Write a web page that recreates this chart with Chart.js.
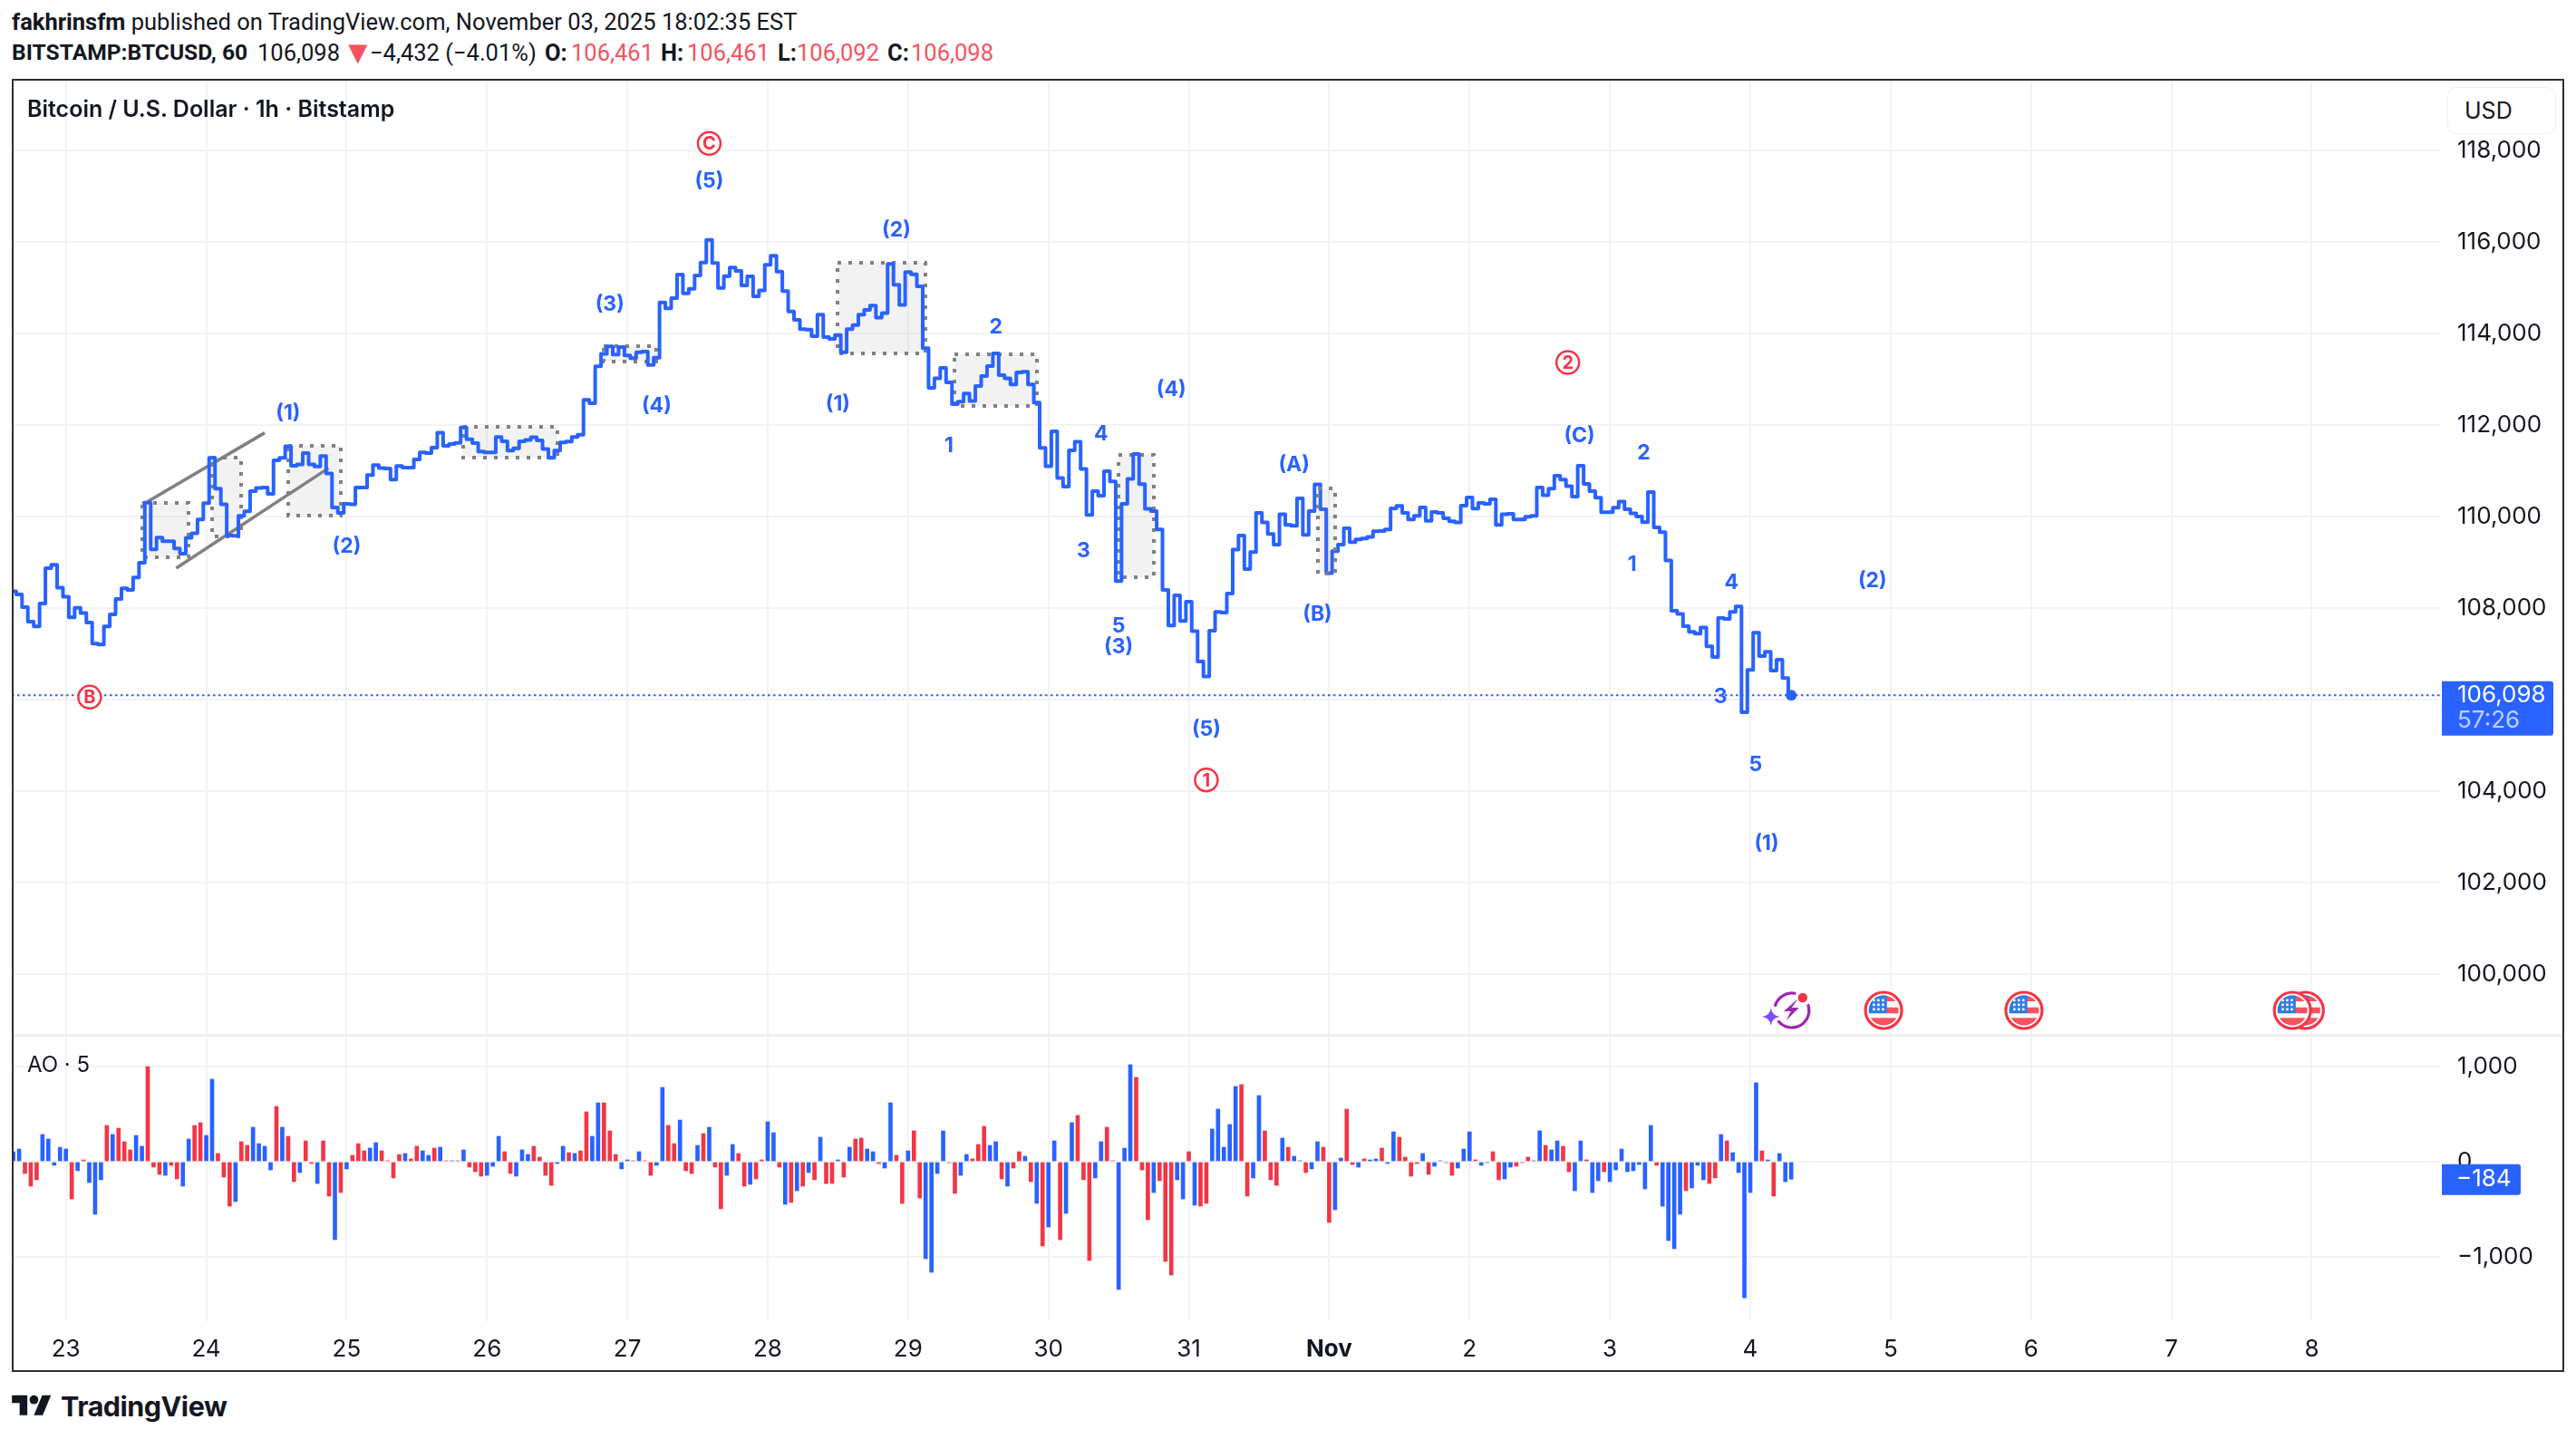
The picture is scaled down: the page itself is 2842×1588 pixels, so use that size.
<!DOCTYPE html>
<html>
<head>
<meta charset="utf-8">
<title>BTCUSD 1h</title>
<script src="https://cdn.jsdelivr.net/npm/chart.js@4"></script>
<style>
  html,body{margin:0;padding:0;background:#fff;width:2842px;height:1588px;overflow:hidden}
  body{font-family:Inter,Roboto,sans-serif;color:#131722;position:relative}
  canvas{position:absolute;left:13px}
  #priceChart{top:87px}
  #aoChart{top:1142px}
  #frame{position:absolute;left:13px;top:87px;width:2812px;height:1423px;border:2.5px solid #2e2e2e;pointer-events:none}
  #sep{position:absolute;left:15px;top:1141px;width:2812px;height:3px;background:#eeeeee}
  .line{position:absolute;left:13px;white-space:nowrap;font-family:Roboto,sans-serif;font-size:25.5px;line-height:30px}
  #l1{top:9px}
  #l2{top:43px;height:30px}
  #l2 span{position:absolute;top:0}
  .line b{font-weight:700}
  #l2 .red{color:#f7525f}
  #title{position:absolute;left:30px;top:105px;font-size:25px;font-weight:600;line-height:30px;white-space:nowrap}
  #aoTitle{position:absolute;left:30px;top:1160px;font-size:24px;line-height:30px;white-space:nowrap}
  #usd{position:absolute;left:2700px;top:96px;width:100px;height:50px;padding-left:18px;border:1px solid #f0f0f0;border-radius:10px;background:#fff;font-size:25px;line-height:50px}
  #logo{position:absolute;left:13px;top:1534px;display:flex;align-items:center;color:#131722}
  #logo span{font-size:30.5px;font-weight:700;letter-spacing:-.5px;margin-left:10px;line-height:36px}
</style>
</head>
<body>
<div class="line" id="l1"><b>fakhrinsfm</b> published on TradingView.com, November 03, 2025 18:02:35 EST</div>
<div class="line" id="l2">
  <span style="left:0;font-size:24.6px"><b>BITSTAMP:BTCUSD, 60</b></span>
  <span style="left:271px">106,098</span>
  <span class="red" style="left:364px;font-size:36px">▼</span>
  <span style="left:395px">−4,432 (−4.01%)</span>
  <span style="left:588px"><b>O:</b></span><span class="red" style="left:617px">106,461</span>
  <span style="left:716px"><b>H:</b></span><span class="red" style="left:745px">106,461</span>
  <span style="left:845px"><b>L:</b></span><span class="red" style="left:866px">106,092</span>
  <span style="left:966px"><b>C:</b></span><span class="red" style="left:992px">106,098</span>
</div>
<canvas id="priceChart" width="2816" height="1055"></canvas>
<canvas id="aoChart" width="2816" height="371"></canvas>
<div id="sep"></div>
<div id="frame"></div>
<div id="title">Bitcoin / U.S. Dollar · 1h · Bitstamp</div>
<div id="aoTitle">AO · 5</div>
<div id="usd">USD</div>
<div id="logo">
  <svg width="44" height="34" viewBox="0 0 36 28"><path fill="#131722" d="M14 22H7V11H0V4h14v18zM28 22h-8l7.5-18h8L28 22z"/><circle fill="#131722" cx="20" cy="8" r="4"/></svg>
  <span>TradingView</span>
</div>
<script>
// === data
const firstHour = -10; // hours counted from Oct 23 00:00
const priceValues = [
  108400,108370,108304,108027,107710,107604,108106,108878,108951,108449,
  108251,107802,108013,107895,107690,107228,107208,107604,107868,108205,
  108436,108403,108673,108997,110310,109287,109545,109465,109465,109307,
  109195,109538,109637,109941,110297,111287,110614,110271,109591,109584,
  110020,110119,110561,110627,110640,110502,111234,111287,111538,111115,
  111142,111393,111142,111102,111327,110944,110205,110086,110284,110271,
  110640,110640,110911,111129,111063,111056,110812,111109,111076,111076,
  111254,111406,111393,111511,111835,111551,111591,111617,111950,111696,
  111611,111426,111406,111406,111743,111650,111446,111498,111650,111677,
  111736,111670,111479,111287,111446,111624,111644,111743,111795,112554,
  112482,113287,113558,113723,113544,113709,113525,113465,113597,113610,
  113320,113478,114686,114554,114779,115293,114884,114983,115274,115557,
  116052,115544,115003,115260,115445,115373,115056,115254,114818,114944,
  115505,115703,115359,114930,114488,114303,114099,114092,113947,114416,
  113927,113888,113973,113597,114099,114191,114416,114521,114614,114350,
  114449,115524,115069,114627,115346,115300,115036,113683,112819,113023,
  113254,112937,112462,112515,112693,112528,112858,113076,113294,113571,
  113096,113023,112891,113155,113168,112891,112495,111505,111103,111868,
  110845,110660,111452,111637,111043,110040,110561,110462,110997,110773,
  108595,110284,110825,111373,110713,110172,110126,109723,108403,107624,
  108284,107723,108146,107499,106839,106509,107512,107921,107908,108324,
  109281,109591,108859,109228,110086,109875,109624,109393,110053,109822,
  109802,110403,109604,110126,110707,110165,108766,109248,109393,109750,
  109446,109505,109525,109558,109683,109690,109723,110185,110238,110086,
  109941,110020,110205,109914,110106,110086,109967,109901,109875,110244,
  110422,110178,110304,110284,110383,109822,110053,110066,109941,109941,
  110000,110020,110640,110469,110614,110898,110812,110667,110442,111115,
  110719,110561,110416,110099,110099,110198,110330,110165,110073,110007,
  109881,110541,109769,109663,109043,107947,107875,107611,107485,107446,
  107578,107169,106938,107789,107769,107921,108040,105730,106654,107466,
  106957,107050,106641,106878,106476,106098
];
const lastPrice = 106098;

const aoFirstHour = -9;
const aoValues = [
  105,133,-124,-257,-190,286,238,-38,152,133,
  -391,-95,19,-219,-552,-190,381,286,352,210,
  124,276,162,1000,-57,-133,-143,-38,-181,-257,
  238,381,410,276,867,86,-162,-467,-419,210,
  171,362,190,162,-86,581,362,267,-210,-114,
  219,-19,-229,219,-362,-819,-324,-76,67,190,
  114,143,200,114,10,-171,76,86,29,162,
  114,67,143,152,10,10,10,124,-57,-105,
  -152,-143,-48,267,105,-124,-152,124,76,162,
  48,-143,-248,-19,162,95,86,114,524,267,
  619,619,324,76,-76,19,10,105,10,-143,
  -38,781,381,190,438,-95,-124,171,295,362,
  -57,-495,-143,181,86,-257,-238,-181,19,419,
  305,-57,-448,-429,-305,-257,-114,-190,257,-229,
  -229,19,-162,152,238,248,133,105,-19,-67,
  619,67,-438,114,324,-381,-1019,-1162,-124,324,
  -10,-333,-143,76,29,181,371,171,210,-181,
  -257,-67,105,57,-210,-438,-886,-686,219,-819,
  -543,410,486,-190,-1038,-171,210,362,10,-1343,
  143,1019,886,-86,-610,-324,-200,-1048,-1191,-190,
  -391,105,-457,-467,-438,343,552,152,391,791,
  810,-362,-171,695,324,-190,-248,248,152,57,
  10,-114,-76,210,152,-638,-505,38,552,-29,
  -57,29,19,29,143,-19,314,257,48,-152,
  -19,86,-133,-48,10,-10,-143,-67,133,314,
  19,-38,-10,105,-190,-181,-57,-48,-10,48,
  10,324,171,124,219,162,-105,-305,219,19,
  -324,-200,-105,-210,-86,133,-105,-95,-29,-286,
  381,-38,-467,-829,-914,-552,-305,-276,-38,-190,
  -229,-171,286,219,95,-114,-1429,-324,829,114,
  19,-362,86,-210,-184
];
// B = blue bar, R = red bar, same order as aoValues
const aoColorKeys = (
  'BBRRRBBBBB'+'RBRBBBRBRR'+'RBBRRRBRRB'+'BRRBBRRRBR'+'RBBBBRBRRB'+
  'RRBRRBRBRR'+'RBBRRRRBRR'+'BBRBRBRBRR'+'RBBBRRBBBR'+'RRRBBRBRRB'+
  'BRRRBBRBRR'+'BBRRBRRBRB'+'RRBBRRBRRB'+'BRBRBRBRBR'+'RBRBRRBBRB'+
  'BRRBRRBBBB'+'RRBBRRRBBR'+'BRRBRBRBBR'+'BBRRRBBRRB'+'BBRRRBRRRB'+
  'BRBRRBBBBB'+'RRBBRRRBRB'+'BRBBRRBBRR'+'BRBBRBBRRR'+'RBRBBRRBBB'+
  'RBBRRBBRRR'+'BBRBBRRBBR'+'BBRBBBBBBB'+'BRBBBBRBBB'+'RRBRBBBBBR'+'BRBBB'
).split('');

const dayHours = [0,24,48,72,96,120,144,168,192,216,240,264,288,312,336,360,384];
const dayLabels = ['23','24','25','26','27','28','29','30','31','Nov','2','3','4','5','6','7','8'];
const priceTicks = [100000,102000,104000,106000,108000,110000,112000,114000,116000,118000];
const aoTicks = [-1000,0,1000];

// wave labels: text, hour, price
const blueWaves = [
  ['(1)',38,112264],['(2)',48,109360],['(3)',93,114647],['(4)',101,112429],['(5)',110,117333],
  ['(1)',132,112455],['(2)',142,116270],['1',151,111551],['2',159,114145],['3',174,109261],
  ['4',177,111802],['5',180,107611],['(3)',180,107149],['(4)',189,112772],['(5)',195,105341],
  ['(A)',210,111129],['(B)',214,107875],['(C)',258.8,111776],['1',267.8,108951],['2',269.8,111382],
  ['3',282.9,106060],['4',284.8,108555],['5',288.9,104572],['(1)',290.8,102858],['(2)',308.9,108604]
];
const redWaves = [['B',4.06,106058],['C',110,118160],['1',195,104250],['2',256.8,113372]];

// dotted boxes: hour from, price top, hour to, price bottom
const zoneBoxes = [
  [13,110304,21,109122],[25,111294,30,109578],[38,111551,47,110033],[68,111960,84,111300],
  [92,113736,101,113393],[132,115557,147,113577],[152,113551,166,112429],[180,111360,186,108680]
];
const zoneBoxesOver = [[214,110614,217,108766]];
const channelLines = [[13.8,110317,34,111835],[18.86,108878,44.9,111063]];
const usEventHours = [310.8,334.8,380.7,382.9];
const boltEventHour = 295.1;
const iconPrice = 99214;

// === look
const BLUE = '#2962ff', RED = '#f23645', INK = '#131722', GRID = '#f3f3f3';
const FONT = 'Inter';
const xMin = -9.25, xMax = 405.94;
const axisW = 137;

const fmt = v => Math.abs(v).toLocaleString('en-US');
const signed = v => (v < 0 ? '−' : '') + fmt(v);
// the plot must fill the pane exactly, no room for half a label
const noMargins = s => { s.paddingTop = 0; s.paddingBottom = 0; s.paddingLeft = 0; s.paddingRight = 0; };

function xScale(showLabels){
  return {
    type:'linear', min:xMin, max:xMax, offset:false,
    afterBuildTicks: s => { s.ticks = dayHours.map(v => ({value:v})); },
    afterFit: s => { noMargins(s); s.height = showLabels ? 55 : 0; },
    border:{display:false},
    grid:{color:GRID, lineWidth:2, drawTicks:false, offset:false},
    ticks:{
      display:showLabels, autoSkip:false, maxRotation:0, minRotation:0, padding:16, color:INK,
      callback: v => dayLabels[dayHours.indexOf(v)],
      font: c => ({family:FONT, size:26, weight: c.tick && c.tick.label === 'Nov' ? '700' : '400'})
    }
  };
}
function yScale(min, max, tickList, label){
  return {
    position:'right', min, max,
    afterBuildTicks: s => { s.ticks = tickList.map(v => ({value:v})); },
    afterFit: s => { noMargins(s); s.width = axisW; },
    border:{display:false},
    grid:{color:GRID, lineWidth:2, drawTicks:false},
    ticks:{padding:19, color:INK, font:{family:FONT, size:26}, callback:label}
  };
}

// === drawings that sit on the price pane
function drawZone(c, box){
  const x = c.scales.x, y = c.scales.y, ctx = c.ctx;
  const l = Math.round(x.getPixelForValue(box[0])), r = Math.round(x.getPixelForValue(box[2]));
  const t = Math.round(y.getPixelForValue(box[1])), b = Math.round(y.getPixelForValue(box[3]));
  ctx.save();
  ctx.fillStyle = 'rgba(128,128,128,0.1)';
  ctx.fillRect(l, t, r-l, b-t);
  ctx.strokeStyle = '#808080'; ctx.lineWidth = 4; ctx.setLineDash([4,8]);
  ctx.strokeRect(l, t, r-l, b-t);
  ctx.restore();
}
function drawFlag(ctx, cx, cy){
  ctx.save();
  ctx.beginPath(); ctx.arc(cx, cy, 20, 0, Math.PI*2);
  ctx.fillStyle = '#fff'; ctx.fill();
  ctx.strokeStyle = RED; ctx.lineWidth = 3.2; ctx.stroke();
  ctx.beginPath(); ctx.arc(cx, cy, 16.5, 0, Math.PI*2); ctx.clip();
  ctx.fillStyle = '#f7525f';
  ctx.fillRect(cx-17, cy-17, 34, 7);
  ctx.fillRect(cx+3, cy-3.3, 14, 6.6);
  ctx.fillRect(cx-17, cy+8.3, 34, 9);
  ctx.fillStyle = '#2b7de9';
  ctx.fillRect(cx-17, cy-17, 20.7, 20.3);
  ctx.fillStyle = '#fff';
  for(let r = 0; r < 3; r++) for(let k = 0; k < 3; k++) ctx.fillRect(cx-12+k*5, cy-12.5+r*5, 2.6, 2.6);
  ctx.restore();
}
function drawBoltIcon(ctx, cx, cy){
  const deg = d => d*Math.PI/180;
  ctx.save();
  ctx.strokeStyle = '#9c27b0'; ctx.lineWidth = 3.2; ctx.lineCap = 'round';
  ctx.beginPath(); ctx.arc(cx, cy, 19, deg(197), deg(280)); ctx.stroke();
  ctx.beginPath(); ctx.arc(cx, cy, 19, deg(-17), deg(139)); ctx.stroke();
  ctx.fillStyle = '#9c27b0';
  ctx.beginPath();
  ctx.moveTo(cx+7,cy-13); ctx.lineTo(cx-9,cy+1); ctx.lineTo(cx-1,cy+1); ctx.lineTo(cx-6,cy+11);
  ctx.lineTo(cx+8,cy-3); ctx.lineTo(cx,cy-3); ctx.closePath(); ctx.fill();
  ctx.fillStyle = RED;
  ctx.beginPath(); ctx.arc(cx+12, cy-14, 5.2, 0, Math.PI*2); ctx.fill();
  const sx = cx-23, sy = cy+7;
  ctx.fillStyle = '#7c4dff';
  ctx.beginPath();
  ctx.moveTo(sx,sy-10); ctx.quadraticCurveTo(sx+1,sy-1,sx+10,sy);
  ctx.quadraticCurveTo(sx+1,sy+1,sx,sy+10); ctx.quadraticCurveTo(sx-1,sy+1,sx-10,sy);
  ctx.quadraticCurveTo(sx-1,sy-1,sx,sy-10); ctx.fill();
  ctx.restore();
}
function priceTag(c, top, h, w){
  const ctx = c.ctx, l = c.chartArea.right + 2;
  ctx.fillStyle = BLUE;
  ctx.beginPath(); ctx.roundRect(l, top, w, h, [0,3,3,0]); ctx.fill();
}

const priceDrawings = {
  id:'priceDrawings',
  beforeDatasetsDraw(c){
    const x = c.scales.x, y = c.scales.y, ctx = c.ctx;
    zoneBoxes.forEach(b => drawZone(c, b));
    ctx.save();
    ctx.strokeStyle = '#808080'; ctx.lineWidth = 3.5;
    channelLines.forEach(l => {
      ctx.beginPath();
      ctx.moveTo(x.getPixelForValue(l[0]), y.getPixelForValue(l[1]));
      ctx.lineTo(x.getPixelForValue(l[2]), y.getPixelForValue(l[3]));
      ctx.stroke();
    });
    ctx.restore();
  },
  afterDatasetsDraw(c){
    const x = c.scales.x, y = c.scales.y, ctx = c.ctx;
    zoneBoxesOver.forEach(b => drawZone(c, b));
    ctx.save();
    ctx.textAlign = 'center'; ctx.textBaseline = 'middle';
    ctx.font = '700 23px ' + FONT; ctx.fillStyle = BLUE;
    blueWaves.forEach(w => ctx.fillText(w[0], x.getPixelForValue(w[1]), y.getPixelForValue(w[2])));
    redWaves.forEach(w => {
      const px = x.getPixelForValue(w[1]), py = y.getPixelForValue(w[2]);
      ctx.beginPath(); ctx.arc(px, py, 12.5, 0, Math.PI*2);
      ctx.fillStyle = '#fff'; ctx.fill();
      ctx.strokeStyle = RED; ctx.lineWidth = 2.5; ctx.stroke();
      ctx.fillStyle = RED; ctx.font = '700 20px ' + FONT;
      ctx.fillText(w[0], px, py + 1);
    });
    const iy = y.getPixelForValue(iconPrice);
    drawBoltIcon(ctx, x.getPixelForValue(boltEventHour), iy);
    usEventHours.slice().reverse().forEach(h => drawFlag(ctx, x.getPixelForValue(h), iy));
    ctx.restore();
  },
  afterDraw(c){
    const ctx = c.ctx, py = c.scales.y.getPixelForValue(lastPrice), tx = c.chartArea.right + 19;
    ctx.save();
    priceTag(c, py-15.5, 60, 123);
    ctx.textAlign = 'left'; ctx.textBaseline = 'middle';
    ctx.font = '26px ' + FONT;
    ctx.fillStyle = '#fff'; ctx.fillText(fmt(lastPrice), tx, py);
    ctx.fillStyle = 'rgba(255,255,255,0.7)'; ctx.fillText('57:26', tx, py + 28);
    ctx.restore();
  }
};
const aoDrawings = {
  id:'aoDrawings',
  afterDraw(c){
    const ctx = c.ctx, last = aoValues[aoValues.length-1], py = c.scales.y.getPixelForValue(last);
    ctx.save();
    priceTag(c, py-16.5, 34, 87);
    ctx.textAlign = 'left'; ctx.textBaseline = 'middle';
    ctx.font = '26px ' + FONT; ctx.fillStyle = '#fff';
    ctx.fillText(signed(last), c.chartArea.right + 18, py);
    ctx.restore();
  }
};

// === charts
const pricePoints = priceValues.map((v,i) => ({x:firstHour+i, y:v}));
const priceChart = new Chart(document.getElementById('priceChart'), {
  type:'line',
  data:{ datasets:[
    { data:[{x:xMin,y:lastPrice},{x:xMax,y:lastPrice}], borderColor:BLUE, borderWidth:2, borderDash:[2.5,3.5], pointRadius:0, order:2 },
    { data:pricePoints, stepped:'middle', borderColor:BLUE, borderWidth:4, borderJoinStyle:'round', backgroundColor:BLUE,
      pointRadius:pricePoints.map((_,i) => i === pricePoints.length-1 ? 6 : 0), pointBorderWidth:0, order:1 }
  ]},
  options:{
    responsive:false, animation:false, events:[],
    layout:{padding:0, autoPadding:false},
    plugins:{legend:{display:false}, tooltip:{enabled:false}},
    scales:{ x:xScale(false), y:yScale(98679, 119570, priceTicks, v => fmt(v)) }
  },
  plugins:[priceDrawings]
});

const aoChart = new Chart(document.getElementById('aoChart'), {
  type:'bar',
  data:{ datasets:[{
    data:aoValues.map((v,i) => ({x:aoFirstHour+i, y:v})),
    backgroundColor:aoColorKeys.map(k => k === 'B' ? BLUE : RED),
    barThickness:4
  }]},
  options:{
    responsive:false, animation:false, events:[],
    layout:{padding:0, autoPadding:false},
    plugins:{legend:{display:false}, tooltip:{enabled:false}},
    scales:{ x:xScale(true), y:yScale(-1676, 1333, aoTicks, v => signed(v)) }
  },
  plugins:[aoDrawings]
});
</script>
</body>
</html>
